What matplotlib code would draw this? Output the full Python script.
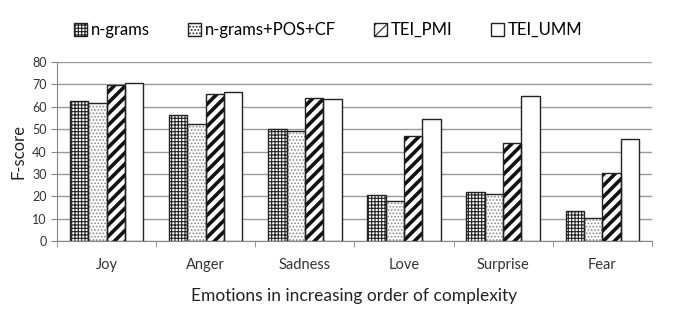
import matplotlib
matplotlib.use("Agg")
import matplotlib.pyplot as plt
import numpy as np

# Datos
categories = ["Joy", "Anger", "Sadness", "Love", "Surprise", "Fear"]
series_names = ["n-grams", "n-grams+POS+CF", "TEI_PMI", "TEI_UMM"]
ngrams = [62.8, 56.1, 50.1, 20.4, 21.8, 13.4]
ngrams_pos_cf = [61.6, 52.2, 49.0, 17.7, 21.0, 10.1]
tei_pmi = [69.8, 65.5, 64.0, 46.8, 43.8, 30.6]
tei_umm = [70.5, 66.6, 63.6, 54.7, 65.0, 45.7]

plt.rcParams['font.family'] = ['Lato', 'DejaVu Sans']
plt.rcParams['hatch.linewidth'] = 0.8

fig = plt.figure(figsize=(6.79, 3.18), dpi=100)
ax = fig.add_axes([0.084, 0.242, 0.876, 0.563])

x = np.arange(len(categories))
w = 0.185
hatches = ['+++++', '.....', '///', '']
hatch_cols = ['#222222', '#8a8a8a', '#111111', '#222222']
values = [ngrams, ngrams_pos_cf, tei_pmi, tei_umm]
handles = []
for i, vals in enumerate(values):
    pos = x + (i - 1.5) * w
    bars = ax.bar(pos, vals, w, color='white', edgecolor=hatch_cols[i],
                  linewidth=0, hatch=hatches[i], zorder=3)
    if i == 2:
        for b in bars:
            try:
                b.set_hatch_linewidth(2.6)
            except AttributeError:
                pass
    # contorno oscuro encima
    ax.bar(pos, vals, w, fill=False, edgecolor='#222222', linewidth=1.0, zorder=4)
    h = plt.Rectangle((0, 0), 1, 1, facecolor='white', edgecolor='#222222',
                      hatch=hatches[i], linewidth=1.0)
    handles.append(h)

ax.set_xlim(-0.5, len(categories) - 0.5)
ax.set_ylim(0, 80)
ax.set_yticks(range(0, 81, 10))
ax.set_xticks(x)
ax.set_xticklabels(categories, fontsize=10.5, color='#333333')
ax.set_xticks(np.arange(-0.5, len(categories), 1), minor=True)
ax.tick_params(axis='x', which='major', length=0, pad=12)
ax.tick_params(axis='x', which='minor', length=4, color='#888888')
ax.tick_params(axis='y', labelsize=9, color='#888888', labelcolor='#333333', length=4)
ax.yaxis.grid(True, color='#999999', linewidth=1.0, zorder=0)
for s in ['top', 'right']:
    ax.spines[s].set_visible(False)
ax.spines['left'].set_color('#888888')
ax.spines['bottom'].set_color('#888888')

ax.set_ylabel("F-score", fontsize=12, color='#222222')
ax.set_xlabel("Emotions in increasing order of complexity", fontsize=12.5, color='#222222', labelpad=12)

fig.legend(handles=handles, labels=series_names, loc='center', bbox_to_anchor=(0.483, 0.905),
           ncol=4, frameon=False, fontsize=12, handlelength=0.8, handleheight=0.8,
           handletextpad=0.2, columnspacing=2.3)

fig.savefig("out.png", dpi=100)
